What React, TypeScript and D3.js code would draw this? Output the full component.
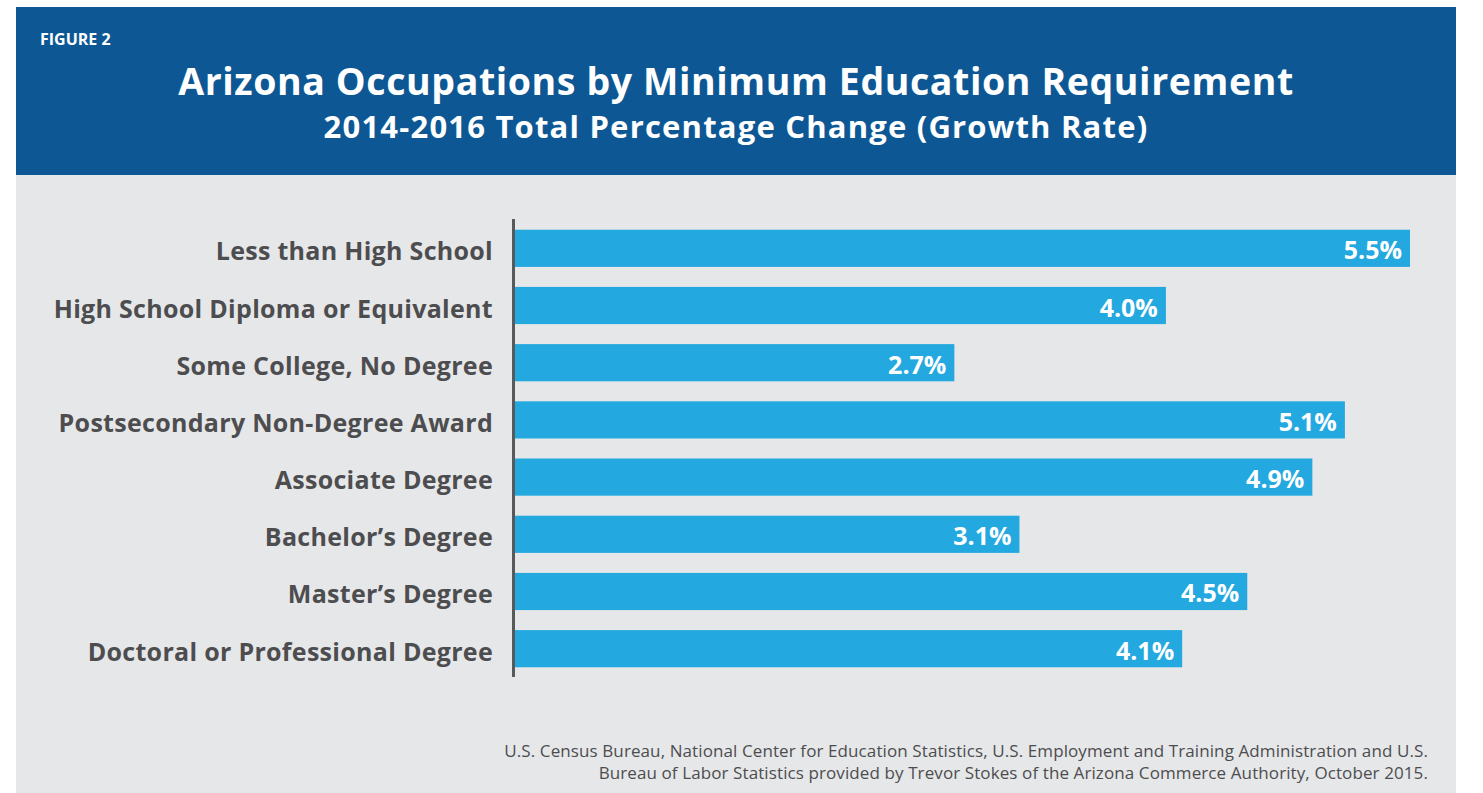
import React from "react";
import * as d3 from "d3";

const categories = [
  "Less than High School",
  "High School Diploma or Equivalent",
  "Some College, No Degree",
  "Postsecondary Non-Degree Award",
  "Associate Degree",
  "Bachelor\u2019s Degree",
  "Master\u2019s Degree",
  "Doctoral or Professional Degree",
];
const values = [5.5, 4.0, 2.7, 5.1, 4.9, 3.1, 4.5, 4.1];
const figureLabel = "FIGURE 2";
const title = "Arizona Occupations by Minimum Education Requirement";
const subtitle = "2014-2016 Total Percentage Change (Growth Rate)";
const sourceLines = [
  "U.S. Census Bureau, National Center for Education Statistics, U.S. Employment and Training Administration and U.S.",
  "Bureau of Labor Statistics provided by Trevor Stokes of the Arizona Commerce Authority, October 2015.",
];

const W = 1483;
const H = 793;
const FONT = "'Open Sans', sans-serif";

export default function App() {
  const x0 = 515;
  const x = d3.scaleLinear().domain([0, 5.5]).range([x0, 1410]);
  const y = d3
    .scaleBand<string>()
    .domain(categories)
    .range([220, 677])
    .paddingInner(0.35)
    .paddingOuter(0.17);

  return (
    <svg
      width={W}
      height={H}
      style={{ position: "absolute", left: 0, top: 0, display: "block" }}
    >
      <rect x={0} y={0} width={W} height={H} fill="#ffffff" />
      <rect x={16} y={175} width={1440} height={H - 175} fill="#e6e7e9" />
      <rect x={16} y={7} width={1440} height={168} fill="#0d5894" />
      <text x={40} y={45} fill="#ffffff" fontFamily={FONT} fontWeight={700} fontSize={16}>
        {figureLabel}
      </text>
      <text x={736} y={95} fill="#ffffff" fontFamily={FONT} fontWeight={700} fontSize={37.5} letterSpacing={0.6} textAnchor="middle">
        {title}
      </text>
      <text x={736} y={138} fill="#ffffff" fontFamily={FONT} fontWeight={700} fontSize={31} letterSpacing={1.2} textAnchor="middle">
        {subtitle}
      </text>

      {categories.map((c, i) => (
        <g key={c}>
          <rect
            x={x(0)}
            y={y(c)!}
            width={x(values[i]) - x(0)}
            height={y.bandwidth()}
            fill="#24a8e0"
          />
          <text
            x={493}
            y={y(c)! + y.bandwidth() / 2 + 12}
            textAnchor="end"
            fill="#4d4d4f"
            fontFamily={FONT}
            fontWeight={700}
            fontSize={25}
            letterSpacing={0.3}
          >
            {c}
          </text>
          <text
            x={x(values[i]) - 8}
            y={y(c)! + y.bandwidth() / 2 + 11}
            textAnchor="end"
            fill="#ffffff"
            fontFamily={FONT}
            fontWeight={700}
            fontSize={25}
          >
            {values[i].toFixed(1) + "%"}
          </text>
        </g>
      ))}
      <line x1={513.5} x2={513.5} y1={219} y2={677} stroke="#58595b" strokeWidth={3} />

      {sourceLines.map((s, i) => (
        <text
          key={i}
          x={1428}
          y={757 + i * 22}
          textAnchor="end"
          fill="#4d4d4f"
          fontFamily="'Open Sans', sans-serif"
          fontSize={17}
          letterSpacing={0.1}
        >
          {s}
        </text>
      ))}
    </svg>
  );
}
